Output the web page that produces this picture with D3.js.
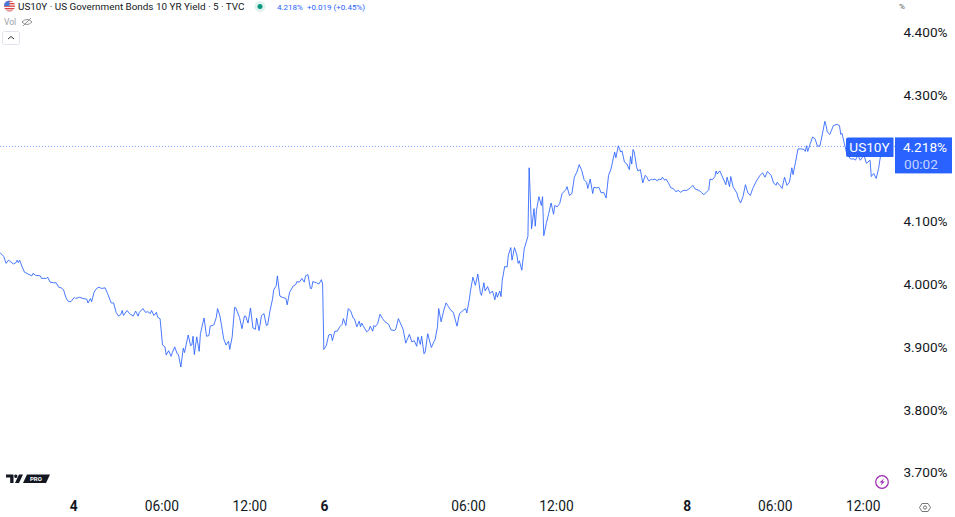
<!DOCTYPE html>
<html><head><meta charset="utf-8">
<script src="https://cdn.jsdelivr.net/npm/d3@7"></script>
<style>html,body{margin:0;background:#fff}svg{display:block}text{font-family:Roboto,sans-serif}</style>
</head><body><svg id="c" width="955" height="517"></svg>
<script>
const bars=[0,3,5,7,9,11,13,14,15,16,18,20,23,26,27,29,33,34,38,39,41,44,46,48,50,52,54,56,58,61,62,65,68,71,72,74,75,77,79,81,83,86,88,91,93,95,97,99,100,101,104,106,109,111,113,114,117,119,121,123,124,126,128,129,131,133,135,136,138,140,141,143,
145,146,148,150,151,154,156,157,158,159,161,163,164,166,167,169,171,172,175,177,178,180,182,183,185,187,188,190,192,193,196,198,200,201,203,205,207,209,210,212,214,216,218,219,221,223,224,226,227,229,231,234,235,237,240,242,243,245,247,249,250,252,254,255,256,259,261,263,264,265,267,269,271,272,274,
276,278,280,281,283,285,287,289,290,292,294,295,296,300,302,303,305,306,307,309,311,313,315,318,320,323,324,326,329,330,332,335,337,339,341,342,344,345,347,348,350,353,355,356,358,359,361,363,365,367,369,371,373,374,376,379,381,382,384,385,387,389,391,393,394,396,397,399,401,403,405,
406,407,409,410,411,413,415,416,418,419,421,423,424,425,427,429,432,433,435,437,438,439,441,443,444,445,447,449,451,453,454,456,458,460,463,464,466,468,470,472,474,476,478,480,481,483,485,486,488,490,492,494,496,498,500,503,504,506,508,509,511,513,515,516,517,518,519,521,522,524,526,528,529,531,533,534,536,
538,539,541,542,544,545,547,549,551,553,555,557,559,562,565,567,569,572,574,576,580,581,583,585,586,587,589,592,594,595,597,598,600,603,604,606,608,610,612,614,616,619,622,624,626,628,631,633,635,636,638,640,642,644,646,648,649,651,653,656,658,659,660,661,663,665,667,669,671,673,675,676,677,679,682,685,687,688,689,691,693,696,699,700,702,704,707,709,712,713,715,717,719,720,722];
const yields=[4.049,4.043,4.032,4.037,4.034,4.031,4.033,4.037,4.033,4.037,4.027,4.018,4.015,4.012,4.016,4.013,4.012,4.008,4.008,4.010,4.002,4.001,4.001,3.994,3.993,3.990,3.977,3.971,3.971,3.978,3.976,3.978,3.976,3.975,3.969,3.976,3.971,3.986,3.992,3.994,3.992,3.993,3.984,3.969,3.969,3.954,3.948,3.951,3.957,3.949,3.957,3.952,3.948,3.956,3.948,3.954,3.960,3.954,3.955,3.952,3.957,3.949,3.954,3.946,3.944,3.902,3.899,3.886,3.893,3.884,3.890,3.899,
3.888,3.887,3.867,3.897,3.890,3.918,3.901,3.902,3.916,3.887,3.915,3.892,3.920,3.937,3.945,3.916,3.917,3.932,3.934,3.946,3.960,3.948,3.925,3.912,3.902,3.908,3.895,3.915,3.962,3.961,3.946,3.928,3.948,3.948,3.937,3.961,3.929,3.927,3.945,3.925,3.949,3.952,3.933,3.934,3.957,3.975,3.990,3.996,4.012,3.980,3.978,3.976,3.966,3.986,3.996,3.998,4.003,4.002,4.008,4.002,4.012,4.014,3.992,3.992,4.003,4.001,3.999,4.006,3.999,3.895,3.901,3.918,3.919,3.909,3.924,
3.924,3.931,3.935,3.944,3.933,3.960,3.956,3.945,3.944,3.931,3.940,3.931,3.937,3.923,3.926,3.932,3.924,3.933,3.931,3.936,3.951,3.944,3.939,3.935,3.926,3.925,3.928,3.944,3.931,3.926,3.905,3.919,3.907,3.909,3.900,3.915,3.903,3.916,3.888,3.891,3.920,3.898,3.907,3.910,3.931,3.960,3.939,3.956,3.969,3.963,3.957,3.954,3.939,3.932,3.952,3.957,3.960,3.953,3.974,3.988,4.010,3.997,4.015,3.986,3.981,4.001,3.988,3.995,3.984,3.988,3.974,
3.986,3.978,3.988,3.979,4.005,4.027,4.026,4.045,4.057,4.037,4.057,4.045,4.032,4.036,4.021,4.055,4.075,4.184,4.087,4.119,4.091,4.116,4.138,4.124,4.138,4.076,4.095,4.111,4.128,4.110,4.124,4.122,4.127,4.143,4.149,4.154,4.140,4.143,4.169,4.177,4.189,4.180,4.165,4.161,4.151,4.166,4.143,4.153,4.152,4.153,4.144,4.145,4.136,4.172,4.182,4.209,4.200,4.219,4.209,4.211,4.193,4.190,4.181,4.202,4.190,4.213,4.209,4.185,4.179,4.181,4.160,4.172,4.170,4.163,4.166,4.165,4.166,
4.163,4.166,4.165,4.169,4.164,4.166,4.160,4.152,4.151,4.146,4.148,4.145,4.148,4.148,4.152,4.156,4.150,4.148,4.145,4.141,4.149,4.166,4.165,4.170,4.179,4.174,4.179,4.166,4.157,4.169,4.154,4.170,4.153,4.144,4.136,4.128,4.138,4.157,4.144,4.140,4.151,4.163,4.172,4.176,4.169,4.178,4.172,4.160,4.156,4.161,4.156,4.151,4.169,4.156,4.161,4.184,4.173,4.193,4.214,4.214,4.213,4.210,4.219,4.210,4.222,4.233,4.230,4.218,4.219,4.238,4.258,4.251,4.241,4.237,4.251,4.253,4.251,4.237,4.239,4.222,4.206,4.198,4.198,4.196,4.204,4.196,4.204,4.191,4.196,4.170,4.175,4.167,4.183,4.196,4.218];
const priceTicks=[3.7,3.8,3.9,4.0,4.1,4.3,4.4];
const timeTicks=[60,132,204,265,383,455,562,634,706];
const timeLabels=["4","06:00","12:00","6","06:00","12:00","8","06:00","12:00"];
const lastPrice=4.218;
const titleText="US10Y · US Government Bonds 10 YR Yield · 5 · TVC";
const quoteText="4.218%  +0.019 (+0.45%)";

const blue="#2962ff", ink="#131722";
const svg=d3.select("#c");
const x=d3.scaleLinear().domain([0,732.4]).range([0,895]);
const y=d3.scaleLinear().domain([3.7,4.4]).range([472,32]);

svg.append("line").attr("x1",0).attr("x2",895).attr("y1",y(lastPrice)).attr("y2",y(lastPrice))
  .attr("stroke",blue).attr("stroke-opacity",.6).attr("stroke-width",1).attr("stroke-dasharray","1 2");

svg.append("path").datum(bars).attr("fill","none").attr("stroke",blue).attr("stroke-opacity",.85).attr("stroke-width",1).attr("stroke-linejoin","round")
  .attr("d",d3.line().x(b=>x(b)).y((b,i)=>y(yields[i])));

const ax=svg.append("g").attr("transform","translate(0,506)")
  .call(d3.axisBottom(x).tickValues(timeTicks).tickFormat((d,i)=>timeLabels[i]).tickSize(0).tickPadding(0));
ax.select(".domain").remove();
ax.selectAll("text").attr("dy","0.35em").attr("y",0).attr("fill",ink).style("font-size","13.8px")
  .style("font-family","Roboto,sans-serif")
  .style("font-weight",(d,i)=>timeLabels[i].length===1?700:400);
const ay=svg.append("g").attr("transform","translate(947.5,0.5)")
  .call(d3.axisLeft(y).tickValues(priceTicks).tickFormat(d=>d3.format(".3f")(d)+"%").tickSize(0).tickPadding(0));
ay.select(".domain").remove();
ay.selectAll("text").attr("fill",ink).style("font-size","13.6px").style("font-family","Roboto,sans-serif");

svg.append("text").attr("x",18).attr("y",10).attr("font-size",9.9).attr("fill",ink).text(titleText);
svg.append("text").attr("x",277).attr("y",9.5).attr("font-size",8).attr("fill",blue).attr("xml:space","preserve").style("white-space","pre").text(quoteText);
svg.append("text").attr("x",899).attr("y",9).attr("font-size",8).attr("fill","#555").text("%");
svg.append("text").attr("x",4).attr("y",25).attr("font-size",8.5).attr("fill","#9a9ea8").text("Vol");

const flag=svg.append("g");
flag.append("clipPath").attr("id","fc").append("circle").attr("cx",9.5).attr("cy",6).attr("r",5.5);
const fg=flag.append("g").attr("clip-path","url(#fc)");
fg.append("rect").attr("x",4).attr("y",0).attr("width",11).attr("height",12).attr("fill","#f5f5f5");
[0.5,3,5.5,8,10.5].forEach(v=>fg.append("rect").attr("x",4).attr("y",v).attr("width",11).attr("height",1.3).attr("fill","#d9403f"));
fg.append("rect").attr("x",4).attr("y",0.5).attr("width",5.5).attr("height",5.5).attr("fill","#4a78d8");
svg.append("circle").attr("cx",260).attr("cy",6.5).attr("r",5.5).attr("fill","#e3f3ef");
svg.append("circle").attr("cx",260).attr("cy",6.5).attr("r",2.5).attr("fill","#089981");
svg.append("path").attr("d","M22 22 Q27 17 32 22 Q27 27 22 22 M23 26 L31 18").attr("fill","none").attr("stroke","#777").attr("stroke-width",.8);
svg.append("rect").attr("x",2.5).attr("y",31.5).attr("width",17).attr("height",13).attr("rx",2).attr("fill","#fff").attr("stroke","#e0e3eb");
svg.append("path").attr("d","M8 39 L11 36.5 L14 39").attr("fill","none").attr("stroke","#333").attr("stroke-width",1);

svg.append("path").attr("d","M6 474.5H13.5V483H10.2V477.5H6Z M15.8 474.5A1.7 1.7 0 1 0 15.8 477.9A1.7 1.7 0 1 0 15.8 474.5Z M19 474.5H23L19 483H15Z").attr("fill",ink);
svg.append("path").attr("d","M27 474.5H50L46 483H23Z").attr("fill",ink);
svg.append("text").attr("x",30).attr("y",481.2).attr("font-size",6).attr("font-weight",700).attr("fill","#fff").text("PRO");

const ly=y(lastPrice);
svg.append("path").attr("d",`M848 ${ly-9}H893.5V${ly+10.5}H848A2 2 0 0 1 846 ${ly+8.5}V${ly-7}A2 2 0 0 1 848 ${ly-9}Z`).attr("fill",blue);
svg.append("text").attr("x",869.5).attr("y",ly+5.5).attr("text-anchor","middle").attr("font-size",13.6).attr("fill","#fff").text("US10Y");
svg.append("rect").attr("x",895).attr("y",ly-9).attr("width",57).attr("height",36).attr("fill",blue);
svg.append("text").attr("x",947).attr("y",ly+5.5).attr("text-anchor","end").attr("font-size",13.6).attr("fill","#fff").text("4.218%");
svg.append("text").attr("x",904).attr("y",ly+22.5).attr("font-size",13.6).attr("fill","#c3d2ff").text("00:02");

svg.append("circle").attr("cx",882).attr("cy",482).attr("r",6.3).attr("fill","#fff").attr("stroke","#9c27b0").attr("stroke-width",1.2);
svg.append("path").attr("d","M884 478.5L879.5 482.5H882L880.5 485.5L884.8 481.5H882.4Z").attr("fill","#9c27b0");
svg.append("path").attr("d","M922 503.5H928L930.5 507.5L928 511.5H922L919.5 507.5Z").attr("fill","none").attr("stroke","#555").attr("stroke-width",.8);
svg.append("circle").attr("cx",925).attr("cy",507.5).attr("r",1.6).attr("fill","none").attr("stroke","#555").attr("stroke-width",.8);
</script></body></html>
